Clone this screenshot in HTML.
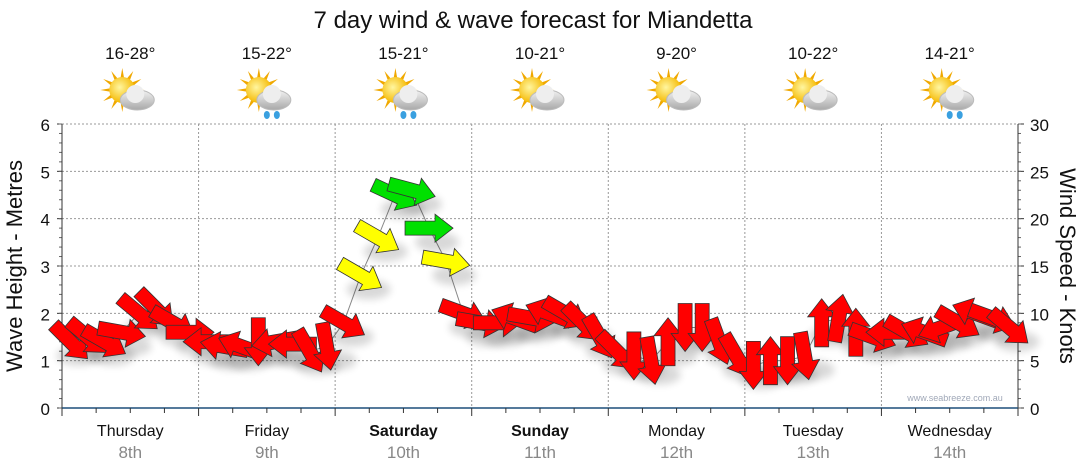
<!DOCTYPE html>
<html><head><meta charset="utf-8"><style>
body{margin:0;background:#fff;}
svg{display:block;font-family:"Liberation Sans","DejaVu Sans",sans-serif;}
</style></head><body>
<svg id="chart" width="1080" height="475" viewBox="0 0 1080 475">
<defs>
<radialGradient id="sunG" cx="0.4" cy="0.4" r="0.6"><stop offset="0" stop-color="#fff6a0"/><stop offset="1" stop-color="#f5b800"/></radialGradient>
<linearGradient id="cloudG" x1="0" y1="0" x2="0" y2="1"><stop offset="0" stop-color="#f2f2f2"/><stop offset="1" stop-color="#a8a8a8"/></linearGradient>
<filter id="sh" x="-50%" y="-50%" width="200%" height="200%"><feGaussianBlur stdDeviation="4"/></filter>
</defs>
<text x="533" y="28" font-size="24" text-anchor="middle" fill="#111">7 day wind &amp; wave forecast for Miandetta</text>
<g id="grid"></g>
<g id="icons"></g>
<g id="axes"></g>
<g id="series"></g>
<text x="955" y="401" font-size="9" fill="#a0a8b8" text-anchor="middle">www.seabreeze.com.au</text>
<text transform="translate(22,266) rotate(-90)" font-size="22" text-anchor="middle" fill="#111">Wave Height - Metres</text>
<text transform="translate(1060,266) rotate(90)" font-size="22" text-anchor="middle" fill="#111">Wind Speed - Knots</text>
</svg>
<script>
const days = ["Thursday","Friday","Saturday","Sunday","Monday","Tuesday","Wednesday"];
const dates = ["8th","9th","10th","11th","12th","13th","14th"];
const boldDays = [false,false,true,true,false,false,false];
const temps = ["16-28°","15-22°","15-21°","10-21°","9-20°","10-22°","14-21°"];
const rainy = [false,true,true,false,false,false,true];
const leftTicks = [0,1,2,3,4,5,6];
const rightTicks = [0,5,10,15,20,25,30];
const waveHeight = [1.4,1.5,1.4,1.6,2.0,2.1,1.8,1.6, 1.4,1.3,1.3,1.4,1.4,1.35,1.2,1.3, 1.8,2.8,3.6,4.5,4.6,3.8,3.1,2.0, 1.8,1.8,1.9,1.9,2.0,2.0,1.8,1.5, 1.2,1.1,1.0,1.4,1.7,1.7,1.4,1.1, 0.9,1.0,1.0,1.1,1.8,1.9,1.6,1.5, 1.6,1.6,1.6,1.7,1.8,2.0,1.9,1.7];
const windDir = [45,40,30,10,40,45,30,0, 180,190,200,90,170,180,60,80, 30,30,30,25,15,0,10,20, 10,0,200,10,200,30,45,60, 45,90,80,270,90,90,70,60, 90,270,90,80,270,280,270,20, 180,30,200,160,30,200,20,40];
const windSpeed = [8,9,8,9,10,11,9,8, 7,7,6,7,7,7,6,7, 10,16,18,22,24,21,17,12, 11,10,10,11,11,10,9,8, 7,6,6,8,9,9,7,6, 6,6,6,7,9,10,9,9, 9,9,9,10,10,11,10,9];

const NS="http://www.w3.org/2000/svg";
const X0=62,X1=1018,Y0=408,Y6=124;
const xDay=d=>X0+(X1-X0)*d/7;
const xPt=i=>X0+(X1-X0)*(i+0.5)/56;
const yW=v=>Y0-(Y0-Y6)*v/6;
const yK=v=>Y0-(Y0-Y6)*v/30;
function mk(tag,attrs,parent){const e=document.createElementNS(NS,tag);for(const k in attrs)e.setAttribute(k,attrs[k]);parent.appendChild(e);return e;}
const grid=document.getElementById('grid'),axes=document.getElementById('axes'),icons=document.getElementById('icons'),series=document.getElementById('series');

leftTicks.forEach(v=>{
  if(v>0){const g=mk('line',{x1:X0,x2:X1,y1:yW(v),y2:yW(v),stroke:'#999','stroke-dasharray':'2,2','stroke-width':1},grid);
  
  }
  const t=mk('text',{x:50,y:yW(v)+7,'font-size':17,'text-anchor':'end',fill:'#111'},axes);t.textContent=v;
  
  
  mk('line',{x1:X0-5,x2:X0,y1:yW(v),y2:yW(v),stroke:'#333'},axes);
});
for(let m=0;m<=30;m++){const v=m*0.2;mk('line',{x1:X0-3,x2:X0,y1:yW(v),y2:yW(v),stroke:'#666'},axes);}
rightTicks.forEach(v=>{
  const t=mk('text',{x:1030,y:yK(v)+7,'font-size':17,fill:'#111'},axes);t.textContent=v;
  
  
  mk('line',{x1:X1,x2:X1+6,y1:yK(v),y2:yK(v),stroke:'#333'},axes);
});
for(let m=0;m<=30;m++){mk('line',{x1:X1,x2:X1+3,y1:yK(m),y2:yK(m),stroke:'#666'},axes);}
mk('line',{x1:X0,x2:X0,y1:Y6,y2:Y0,stroke:'#333'},axes);
mk('line',{x1:X1,x2:X1,y1:Y6,y2:Y0,stroke:'#333'},axes);
mk('line',{x1:X0,x2:X1,y1:Y0,y2:Y0,stroke:'#1d4f7a','stroke-width':1.5},axes);
for(let q=0;q<=28;q++){const x=X0+(X1-X0)*q/28;mk('line',{x1:x,x2:x,y1:Y0,y2:Y0+(q%4==0?8:5),stroke:'#333'},axes);}
days.forEach((d,i)=>{
  if(i>0){const g=mk('line',{x1:xDay(i),x2:xDay(i),y1:Y6,y2:Y0,stroke:'#999','stroke-dasharray':'2,2'},grid);
  
  }
  const cx=(xDay(i)+xDay(i+1))/2;
  const t=mk('text',{x:cx,y:436,'font-size':16,'text-anchor':'middle',fill:'#111','font-weight':boldDays[i]?'bold':'normal'},axes);t.textContent=d;
  
  
  const t2=mk('text',{x:cx,y:458,'font-size':17,'text-anchor':'middle',fill:'#888'},axes);t2.textContent=dates[i];
  
  
  const t3=mk('text',{x:cx,y:59,'font-size':17,'text-anchor':'middle',fill:'#111'},icons);t3.textContent=temps[i];
  
  
  const g=mk('g',{transform:`translate(${cx},96)`},icons);
  
  
  for(let r=0;r<12;r++){const a=r*Math.PI/6;mk('polygon',{points:`${-8+Math.cos(a)*22},${-6+Math.sin(a)*22} ${-8+Math.cos(a+0.15)*12},${-6+Math.sin(a+0.15)*12} ${-8+Math.cos(a-0.15)*12},${-6+Math.sin(a-0.15)*12}`,fill:'#f0a800'},g);}
  mk('circle',{cx:-8,cy:-6,r:13,fill:'url(#sunG)'},g);
  mk('ellipse',{cx:7,cy:4,rx:17,ry:10,fill:'url(#cloudG)',stroke:'#bbb'},g);
  mk('circle',{cx:5,cy:-2,r:9,fill:'#eee'},g);
  if(rainy[i]){mk('ellipse',{cx:0,cy:19,rx:3,ry:4,fill:'#3aa0e0'},g);mk('ellipse',{cx:10,cy:19,rx:3,ry:4,fill:'#3aa0e0'},g);}
});

const pts=waveHeight.map((v,i)=>`${xPt(i)},${yW(v)}`).join(' ');
const pl=mk('polyline',{points:pts,fill:'none',stroke:'#888','stroke-width':1},series);


const shape="-24,-7 6,-7 6,-14 24,0 6,14 6,7 -24,7";
waveHeight.forEach((v,i)=>{
  const x=xPt(i),y=yW(v);
  mk('ellipse',{cx:x+8,cy:y+14,rx:22,ry:10,fill:'#000',opacity:0.15,filter:'url(#sh)'},series);
});
waveHeight.forEach((v,i)=>{
  const s=windSpeed[i];
  const col=s>=20?'#00e000':(s>=15?'#ffff00':'#ff0000');
  const x=xPt(i),y=yW(v);
  const a=mk('polygon',{points:shape,fill:col,stroke:'#333','stroke-width':0.8,transform:`translate(${x},${y}) rotate(${windDir[i]})`},series);
  
  
});
</script>
</body></html>
